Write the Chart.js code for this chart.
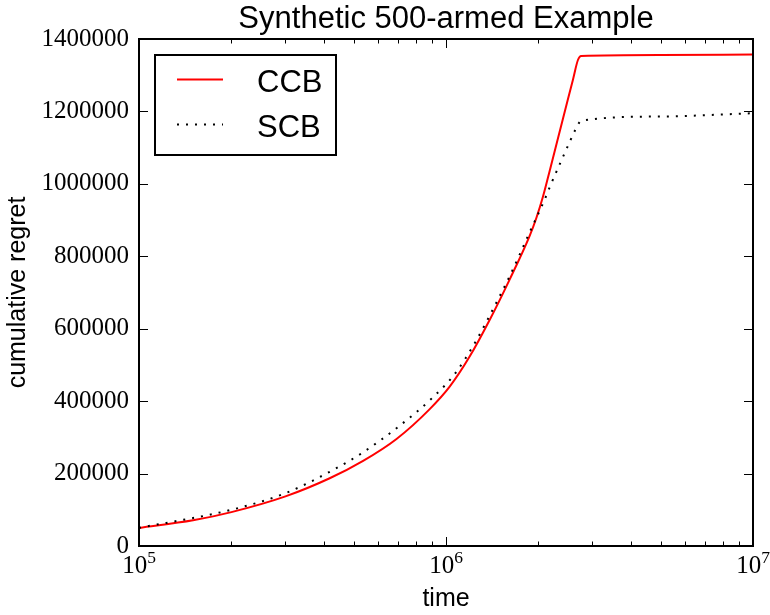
<!DOCTYPE html>
<html>
<head>
<meta charset="utf-8">
<title>Synthetic 500-armed Example</title>
<script src="https://cdn.jsdelivr.net/npm/chart.js@4.4.1/dist/chart.umd.min.js"></script>
<style>
  html, body { margin: 0; padding: 0; background: #fff; }
</style>
</head>
<body>
<canvas id="regret-chart" width="770" height="615"></canvas>
<script>
// data

const ccbTime = [1e5, 1.5e5, 2e5, 3e5, 4.18e5, 5.37e5, 6.9e5, 8.85e5, 1.028e6, 1.194e6, 1.387e6, 1.61e6, 1.87e6, 1.968e6, 2.07e6, 2.175e6, 2.404e6, 2.59e6, 2.69e6, 2.756e6, 5e6, 1e7];
const ccbRegret = [50000, 71000, 93600, 137000, 187000, 235000, 295500, 378000, 440000, 523000, 624000, 735000, 855000, 905000, 965000, 1035000, 1180000, 1287000, 1342000, 1353000, 1356000, 1357000];

const scbTime = [1e5, 2e5, 3e5, 4.29e5, 5.37e5, 7e5, 9e5, 1.076e6, 1.243e6, 1.452e6, 1.633e6, 1.87e6, 2.094e6, 2.2e6, 2.38e6, 2.51e6, 2.655e6, 2.756e6, 5e6, 1e7];
const scbRegret = [50000, 100000, 146000, 210000, 258800, 329500, 408000, 478700, 561500, 668400, 754800, 865000, 956000, 1000000, 1066000, 1109500, 1153700, 1174000, 1186000, 1195000];

const xDecades = [1e5, 1e6, 1e7];
const yTicks = [0, 200000, 400000, 600000, 800000, 1000000, 1200000, 1400000];

const SANS = '"Liberation Sans", Arial, sans-serif';
const SERIF = '"Liberation Serif", "Times New Roman", serif';

const toPoints = (xs, ys) => xs.map((t, i) => ({ x: t, y: ys[i] }));

// frame, inward ticks, title, x labels and legend (matplotlib classic look)
const mplDecor = {
  id: "mplDecor",
  afterDatasetsDraw(chart) {
    const { ctx, chartArea: { left, right, top, bottom }, scales: { x, y } } = chart;
    ctx.save();
    ctx.strokeStyle = "#000";
    ctx.lineWidth = 1;
    ctx.beginPath();
    xDecades.forEach((d, i) => {
      const mults = i < xDecades.length - 1 ? [1, 2, 3, 4, 5, 6, 7, 8, 9] : [1];
      mults.forEach((m) => {
        const px = Math.round(x.getPixelForValue(d * m)) + 0.5;
        const len = m === 1 ? 9 : 4.5;
        ctx.moveTo(px, bottom);
        ctx.lineTo(px, bottom - len);
        ctx.moveTo(px, top);
        ctx.lineTo(px, top + len);
      });
    });
    yTicks.forEach((v) => {
      const py = Math.round(y.getPixelForValue(v)) + 0.5;
      ctx.moveTo(left, py);
      ctx.lineTo(left + 9, py);
      ctx.moveTo(right, py);
      ctx.lineTo(right - 9, py);
    });
    ctx.stroke();

    ctx.lineWidth = 2;
    ctx.strokeRect(left, top, right - left, bottom - top);

    // x tick labels 10^n
    ctx.fillStyle = "#000";
    ctx.textBaseline = "alphabetic";
    ctx.textAlign = "left";
    xDecades.forEach((d) => {
      const px = x.getPixelForValue(d);
      const sup = String(Math.round(Math.log10(d)));
      ctx.font = "25px " + SERIF;
      const w1 = ctx.measureText("10").width;
      ctx.font = "17.5px " + SERIF;
      const w2 = ctx.measureText(sup).width;
      const start = px - (w1 + w2) / 2;
      ctx.font = "25px " + SERIF;
      ctx.fillText("10", start, 573);
      ctx.font = "17.5px " + SERIF;
      ctx.fillText(sup, start + w1, 563);
    });

    // title
    ctx.font = "31px " + SANS;
    ctx.textAlign = "center";
    ctx.fillText("Synthetic 500-armed Example", (left + right) / 2, 28);

    // legend
    ctx.fillStyle = "#fff";
    ctx.fillRect(155, 55, 181, 100);
    ctx.strokeStyle = "#000";
    ctx.lineWidth = 2;
    ctx.strokeRect(155, 55, 181, 100);
    const rows = [79.5, 124.5];
    const sets = [chart.data.datasets[1], chart.data.datasets[0]];
    sets.forEach((ds, i) => {
      ctx.beginPath();
      ctx.strokeStyle = ds.borderColor;
      ctx.lineWidth = ds.borderWidth;
      ctx.setLineDash(ds.borderDash || []);
      ctx.moveTo(177, rows[i]);
      ctx.lineTo(223, rows[i]);
      ctx.stroke();
      ctx.setLineDash([]);
      ctx.fillStyle = "#000";
      ctx.font = "31px " + SANS;
      ctx.textAlign = "left";
      ctx.fillText(ds.label, 257, rows[i] + 12);
    });
    ctx.restore();
  },
};

const ctx = document.getElementById("regret-chart");

new Chart(ctx, {
  type: "line",
  data: {
    datasets: [
      {
        label: "SCB",
        data: toPoints(scbTime, scbRegret),
        borderColor: "#000000",
        borderWidth: 2,
        borderDash: [2, 7],
        borderCapStyle: "butt",
        pointRadius: 0,
        cubicInterpolationMode: "monotone",
        order: 0,
      },
      {
        label: "CCB",
        data: toPoints(ccbTime, ccbRegret),
        borderColor: "#ff0000",
        borderWidth: 2,
        pointRadius: 0,
        cubicInterpolationMode: "monotone",
        order: 1,
      },
    ],
  },
  options: {
    responsive: false,
    animation: false,
    layout: {
      padding: { top: 39, right: 17, left: 0, bottom: 0 },
    },
    plugins: {
      legend: { display: false },
      tooltip: { enabled: false },
      title: { display: false },
    },
    scales: {
      x: {
        type: "logarithmic",
        min: 1e5,
        max: 1e7,
        afterFit(s) {
          s.height = 69;
        },
        border: { display: false },
        grid: { display: false },
        ticks: { display: false },
        title: {
          display: true,
          text: "time",
          color: "#000",
          font: { family: SANS, size: 25 },
          padding: { top: 0, bottom: 1 },
        },
      },
      y: {
        min: 0,
        max: 1400000,
        afterFit(s) {
          s.width = 139;
        },
        afterBuildTicks(s) {
          s.ticks = yTicks.map((v) => ({ value: v }));
        },
        border: { display: false },
        grid: { display: false, drawTicks: false },
        ticks: {
          padding: 10,
          color: "#000",
          font: { family: SERIF, size: 25 },
          callback: (v) => String(v),
        },
        title: {
          display: true,
          text: "cumulative regret",
          color: "#000",
          font: { family: SANS, size: 25 },
          padding: { top: 3, bottom: 0 },
        },
      },
    },
  },
  plugins: [mplDecor],
});
</script>
</body>
</html>
